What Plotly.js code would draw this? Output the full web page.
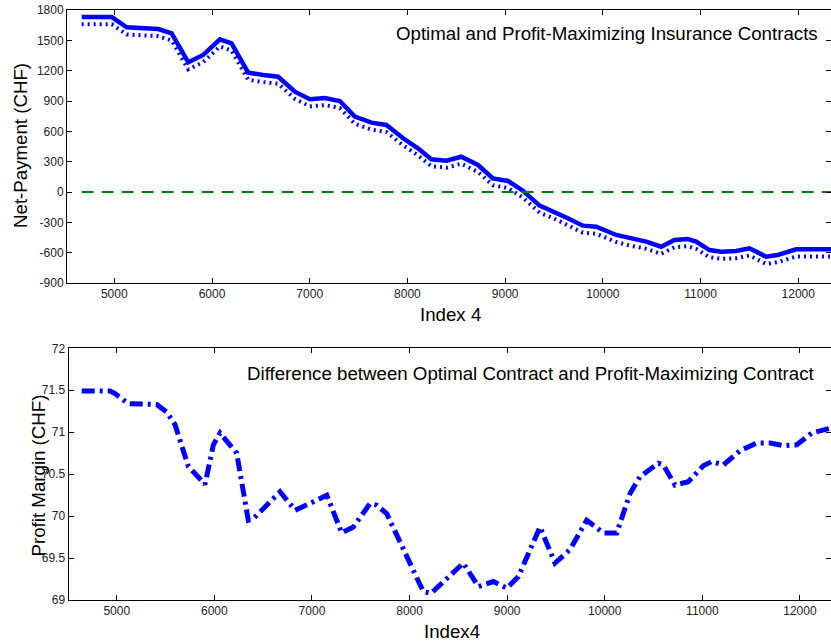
<!DOCTYPE html>
<html>
<head>
<meta charset="utf-8">
<script src="https://cdn.plot.ly/plotly-3.0.1.min.js"></script>
<style>html,body{margin:0;padding:0;background:#fff;}#chart{width:831px;height:643px;}</style>
</head>
<body>
<div id="chart"></div>
<script>
// ---- data ----
const xNet = [4666, 4975, 5127, 5451, 5587, 5757, 5910, 6081, 6200, 6370, 6524, 6677, 6848, 7001, 7155, 7308, 7462, 7632, 7785, 7956, 8108, 8245, 8399, 8551, 8722, 8875, 9029, 9182, 9353, 9506, 9642, 9796, 9932, 10137, 10307, 10444, 10597, 10733, 10869, 10955, 11091, 11211, 11364, 11500, 11671, 11790, 11978, 12335];
const optimalPayment = [1730, 1730, 1629, 1612, 1569, 1283, 1355, 1510, 1470, 1180, 1157, 1140, 992, 917, 930, 900, 745, 686, 663, 531, 432, 323, 310, 349, 267, 135, 109, 13, -135, -195, -260, -333, -343, -425, -465, -491, -541, -475, -465, -491, -574, -590, -584, -557, -640, -623, -567, -567];
const profitMaxPayment = [1658, 1658, 1558, 1541, 1498, 1213, 1285, 1439, 1399, 1110, 1087, 1070, 922, 847, 860, 830, 675, 616, 593, 461, 362, 254, 241, 280, 198, 66, 40, -56, -205, -265, -330, -403, -413, -495, -536, -562, -612, -546, -536, -562, -645, -661, -655, -628, -711, -694, -638, -638];
const zeroX = [4666, 12335];
const zeroY = [0, 0];

const xMargin = [4641, 4931, 4983, 5119, 5410, 5512, 5597, 5734, 5905, 5990, 6058, 6229, 6348, 6400, 6673, 6827, 7014, 7152, 7305, 7424, 7595, 7664, 7766, 7971, 8141, 8220, 8551, 8705, 8859, 8996, 9115, 9337, 9490, 9644, 9815, 9985, 10123, 10259, 10361, 10549, 10600, 10720, 10856, 11010, 11096, 11215, 11386, 11557, 11694, 11830, 11967, 12121, 12318];
const profitMargin = [71.49, 71.49, 71.46, 71.34, 71.33, 71.24, 71.09, 70.59, 70.38, 70.85, 70.99, 70.75, 69.95, 69.97, 70.29, 70.07, 70.17, 70.25, 69.80, 69.87, 70.15, 70.13, 70.03, 69.52, 69.10, 69.08, 69.44, 69.16, 69.22, 69.14, 69.28, 69.87, 69.44, 69.60, 69.95, 69.80, 69.80, 70.27, 70.47, 70.63, 70.61, 70.37, 70.41, 70.60, 70.65, 70.61, 70.78, 70.87, 70.87, 70.84, 70.85, 70.99, 71.05];

const xTickVals = [5000, 6000, 7000, 8000, 9000, 10000, 11000, 12000];
const xTickText = ['5000', '6000', '7000', '8000', '9000', '10000', '11000', '12000'];
const yTopTickVals = [-900, -600, -300, 0, 300, 600, 900, 1200, 1500, 1800];
const yTopTickText = ['-900', '-600', '-300', '0', '300', '600', '900', '1200', '1500', '1800'];
const yBotTickVals = [69, 69.5, 70, 70.5, 71, 71.5, 72];
const yBotTickText = ['69', '69.5', '70', '70.5', '71', '71.5', '72'];

const topTitle = 'Optimal and Profit-Maximizing Insurance Contracts';
const botTitle = 'Difference between Optimal Contract and Profit-Maximizing Contract';

// ---- plot ----
const FONT = 'Liberation Sans, Arial, sans-serif';
const TSIZE = 18.7;
const traces = [
  {x: xNet, y: profitMaxPayment, xaxis: 'x', yaxis: 'y', mode: 'lines',
   line: {color: '#0000ff', width: 4, dash: '2px,4px'}, hoverinfo: 'skip'},
  {x: xNet, y: optimalPayment, xaxis: 'x', yaxis: 'y', mode: 'lines',
   line: {color: '#0000ff', width: 4.5}, hoverinfo: 'skip'},
  {x: zeroX, y: zeroY, xaxis: 'x', yaxis: 'y', mode: 'lines',
   line: {color: '#008000', width: 2, dash: '12px,8px'}, hoverinfo: 'skip'},
  {x: xMargin, y: profitMargin, xaxis: 'x2', yaxis: 'y2', mode: 'lines',
   line: {color: '#0000ff', width: 5, dash: '13px,5px,3px,5px'}, hoverinfo: 'skip'}
];

const axisCommon = {
  showline: true, linecolor: '#000', linewidth: 1, mirror: 'allticks',
  ticks: 'inside', ticklen: 5, tickcolor: '#000', tickwidth: 1,
  showgrid: false, zeroline: false, tickmode: 'array',
  tickfont: {family: FONT, size: 12, color: '#222'}
};

const layout = {
  width: 831, height: 643,
  margin: {l: 67, r: 0, t: 10, b: 43, pad: 0},
  paper_bgcolor: '#fff', plot_bgcolor: '#fff',
  showlegend: false,
  xaxis: Object.assign({}, axisCommon, {domain: [0, 1], range: [4516, 12335], anchor: 'y',
    tickvals: xTickVals, ticktext: xTickText}),
  yaxis: Object.assign({}, axisCommon, {domain: [0.5373, 1], range: [-900, 1800], anchor: 'x',
    tickvals: yTopTickVals, ticktext: yTopTickText}),
  xaxis2: Object.assign({}, axisCommon, {domain: [0.002, 1], range: [4506, 12318], anchor: 'y2',
    tickvals: xTickVals, ticktext: xTickText}),
  yaxis2: Object.assign({}, axisCommon, {domain: [0, 0.4266], range: [69, 72], anchor: 'x2',
    tickvals: yBotTickVals, ticktext: yBotTickText}),
  annotations: [
    {text: topTitle, xref: 'paper', yref: 'paper', x: 0.9856, y: 0.961, xanchor: 'right', yanchor: 'middle',
     showarrow: false, font: {family: FONT, size: TSIZE, color: '#000'}},
    {text: botTitle, xref: 'paper', yref: 'paper', x: 0.9817, y: 0.3842, xanchor: 'right', yanchor: 'middle',
     showarrow: false, font: {family: FONT, size: TSIZE, color: '#000'}},
    {text: 'Index 4', xref: 'paper', yref: 'paper', x: (450 - 67) / 764, y: (600 - 314) / 590, xanchor: 'center', yanchor: 'middle',
     showarrow: false, font: {family: FONT, size: TSIZE, color: '#000'}},
    {text: 'Index4', xref: 'paper', yref: 'paper', x: (452 - 67) / 764, y: (600 - 631) / 590, xanchor: 'center', yanchor: 'middle',
     showarrow: false, font: {family: FONT, size: TSIZE, color: '#000'}},
    {text: 'Net-Payment (CHF)', xref: 'paper', yref: 'paper', x: (20 - 67) / 764, y: (600 - 146) / 590, xanchor: 'center', yanchor: 'middle',
     textangle: -90, showarrow: false, font: {family: FONT, size: TSIZE, color: '#000'}},
    {text: 'Profit Margin (CHF)', xref: 'paper', yref: 'paper', x: (37.5 - 67) / 764, y: (600 - 476) / 590, xanchor: 'center', yanchor: 'middle',
     textangle: -90, showarrow: false, font: {family: FONT, size: TSIZE, color: '#000'}}
  ]
};

Plotly.newPlot('chart', traces, layout, {displayModeBar: false, staticPlot: true});
</script>
</body>
</html>
